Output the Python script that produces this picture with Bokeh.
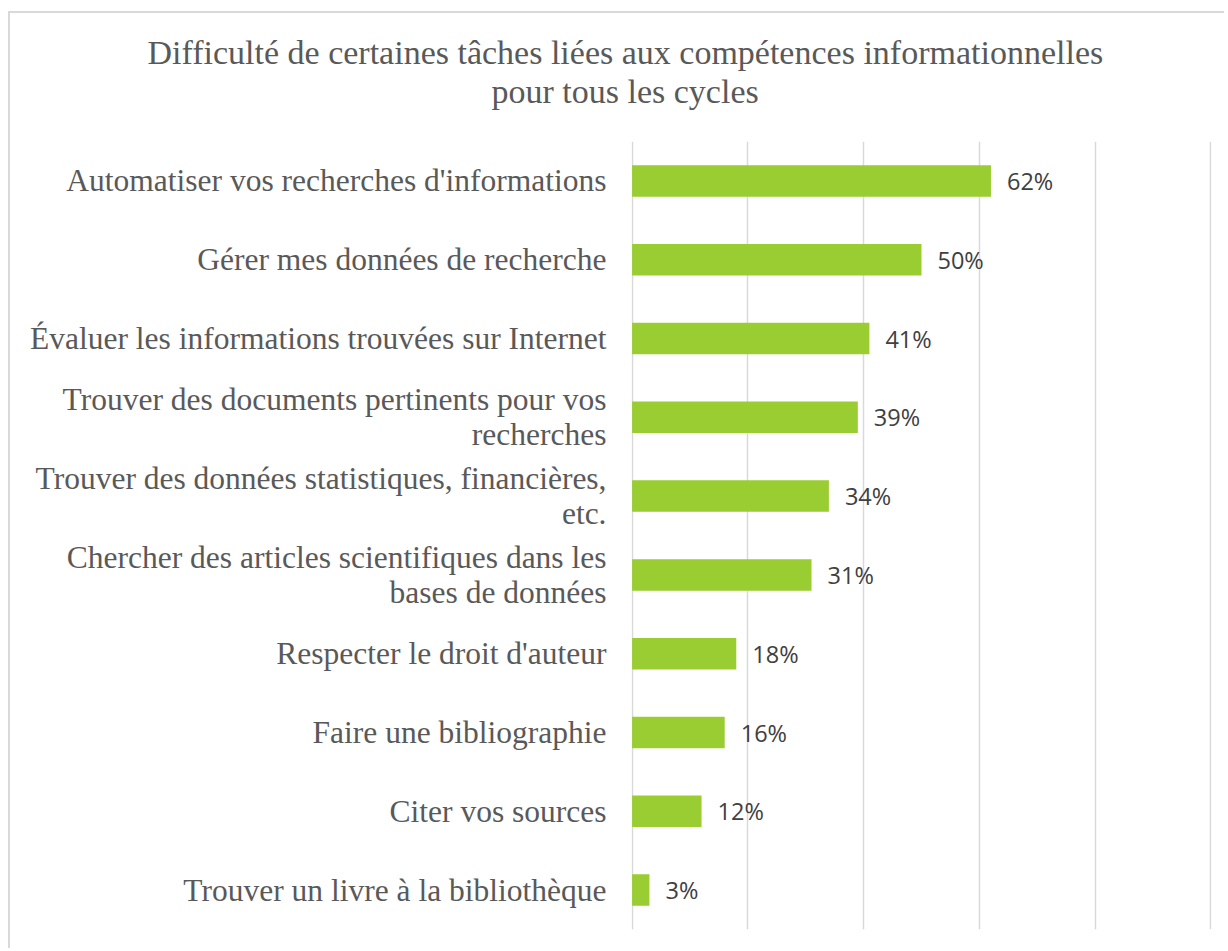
from bokeh.plotting import figure
from bokeh.models import FactorRange, Range1d, FixedTicker, Title, ColumnDataSource
from bokeh.core.properties import value
from bokeh.embed import file_html
from bokeh.resources import INLINE

title_lines = ["Difficulté de certaines tâches liées aux compétences informationnelles",
               "pour tous les cycles"]
categories = [
    "Automatiser vos recherches d'informations",
    "Gérer mes données de recherche",
    "Évaluer les informations trouvées sur Internet",
    "Trouver des documents pertinents pour vos\nrecherches",
    "Trouver des données statistiques, financières,\netc.",
    "Chercher des articles scientifiques dans les\nbases de données",
    "Respecter le droit d'auteur",
    "Faire une bibliographie",
    "Citer vos sources",
    "Trouver un livre à la bibliothèque",
]
values = [62, 50, 41, 39, 34, 31, 18, 16, 12, 3]
labels = [f"{v}%" for v in values]
grid_ticks = [0, 20, 40, 60, 80, 100]

src = ColumnDataSource(dict(cat=categories, val=values, lab=labels))

p = figure(width=1216, height=937, output_backend="svg", toolbar_location=None,
           y_range=FactorRange(*reversed(categories)), x_range=Range1d(-0.1, 100.1),
           min_border_left=621, min_border_right=15, min_border_top=128, min_border_bottom=21,
           styles={"border-left": "2px solid #d9d9d9", "border-top": "2px solid #d9d9d9",
                   "margin-left": "8px", "margin-top": "11px"})
p.outline_line_color = None
p.background_fill_color = "white"
p.border_fill_color = "white"

p.hbar(y="cat", right="val", left=0, height=0.4, source=src,
       fill_color="#9ACD32", line_color=None)
p.text(x="val", y="cat", text="lab", source=src, x_offset=16,
       text_align="left", text_baseline="middle",
       text_font=value("Open Sans"), text_font_size="23.5px", text_color="#404040")

p.xaxis.visible = False
p.xgrid.ticker = FixedTicker(ticks=grid_ticks)
p.xgrid.grid_line_color = "#d9d9d9"
p.xgrid.grid_line_width = 1.5
p.ygrid.grid_line_color = None

ax = p.yaxis[0]
ax.axis_line_color = None
ax.major_tick_line_color = None
ax.minor_tick_line_color = None
ax.major_tick_out = 0
ax.major_tick_in = 0
ax.major_label_standoff = 25
ax.major_label_text_font = "Liberation Serif"
ax.major_label_text_font_size = "31.5px"
ax.major_label_text_color = "#595959"
ax.major_label_text_line_height = 0.99

# stacked outward from the frame: spacer, second line, first line
p.add_layout(Title(text=" ", align="left", standoff=8,
                   text_font="Liberation Serif", text_font_size="20px",
                   text_color="#595959"), "above")
p.add_layout(Title(text=title_lines[1], align="left", offset=-140, standoff=0,
                   text_font="Liberation Serif", text_font_size="34px",
                   text_font_style="normal", text_color="#595959"), "above")
p.add_layout(Title(text=title_lines[0], align="left", offset=-484, standoff=0,
                   text_font="Liberation Serif", text_font_size="34px",
                   text_font_style="normal", text_color="#595959"), "above")

open("out.html", "w").write(file_html(p, INLINE))
